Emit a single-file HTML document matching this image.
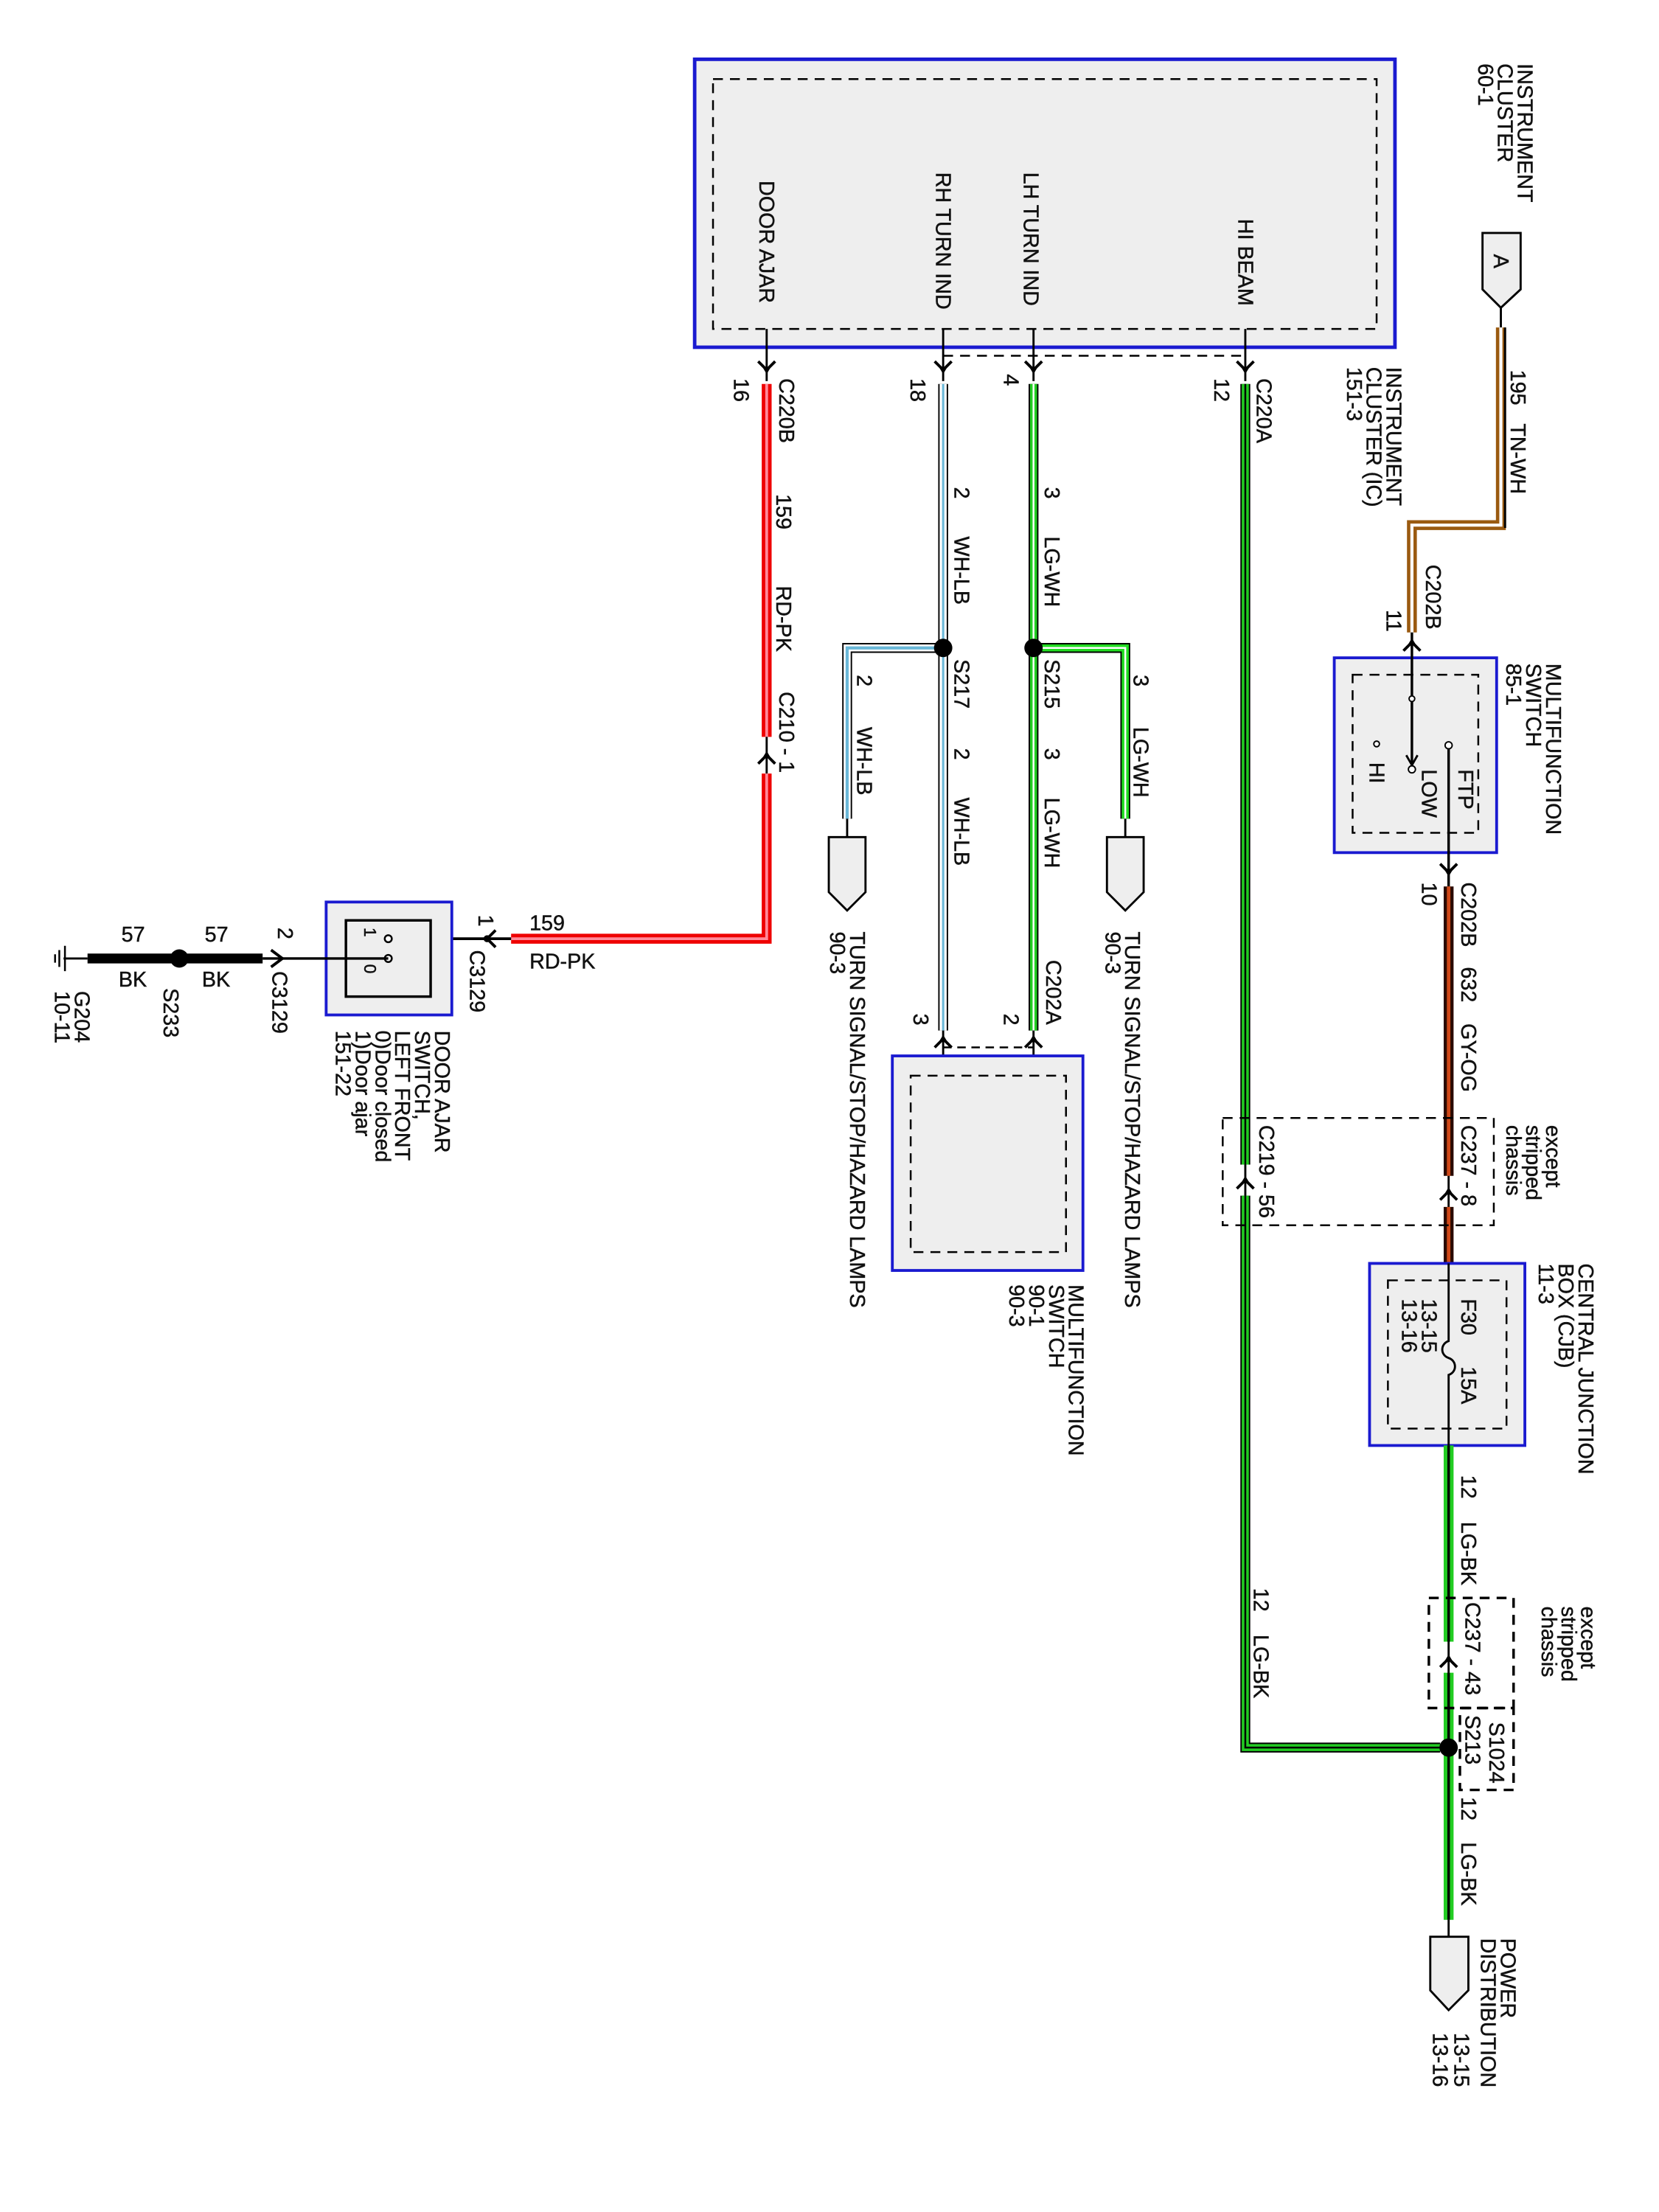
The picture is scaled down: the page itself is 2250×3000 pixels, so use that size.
<!DOCTYPE html>
<html><head><meta charset="utf-8"><style>
html,body{margin:0;padding:0;background:#fff;width:2250px;height:3000px;overflow:hidden}
svg{display:block}
text{font-family:"Liberation Sans",sans-serif;font-size:15px;fill:#111;stroke:#111;stroke-width:0.25}
</style></head><body>
<svg width="2250" height="3000" viewBox="0 0 1175 1567" preserveAspectRatio="none" xmlns="http://www.w3.org/2000/svg">
<defs>
<g id="cd"><path d="M-6,-6 L0,0 L6,-6" fill="none" stroke="#000" stroke-width="2"/><path d="M-3,-2 L0,3 L3,-2Z" fill="#000"/></g>
<g id="cu"><path d="M-6,6 L0,0 L6,6" fill="none" stroke="#000" stroke-width="2"/><path d="M-3,2 L0,-3 L3,2Z" fill="#000"/></g>
</defs>
<rect x="492" y="42" width="496" height="204" fill="#eee" stroke="#1a1ad0" stroke-width="2.5"/>
<rect x="505" y="56" width="470" height="177" fill="none" stroke="#000" stroke-width="1.3" stroke-dasharray="7,5"/>
<path d="M668,252 L882,252" stroke="#000" stroke-width="1.3" stroke-dasharray="7,5"/>
<g>
<text transform="translate(538,128) rotate(90)">DOOR AJAR</text>
<text transform="translate(663,122) rotate(90)">RH TURN IND</text>
<text transform="translate(725,122) rotate(90)">LH TURN IND</text>
<text transform="translate(877,155) rotate(90)">HI BEAM</text>
<text transform="translate(1075,45) rotate(90)">INSTRUMENT</text>
<text transform="translate(1061,45) rotate(90)">CLUSTER</text>
<text transform="translate(1047,45) rotate(90)">60-1</text>
<text transform="translate(982,260) rotate(90)">INSTRUMENT</text>
<text transform="translate(968,260) rotate(90)">CLUSTER (IC)</text>
<text transform="translate(954,260) rotate(90)">151-3</text>
</g>
<path d="M543,233 V270 M668,233 V270 M732,233 V270 M882,233 V270" stroke="#000" stroke-width="1.5"/>
<use href="#cd" x="543" y="262"/><use href="#cd" x="668" y="262"/><use href="#cd" x="732" y="262"/><use href="#cd" x="882" y="262"/>
<text transform="translate(520,268) rotate(90)">16</text>
<text transform="translate(552,268) rotate(90)">C220B</text>
<text transform="translate(645,268) rotate(90)">18</text>
<text transform="translate(711,265) rotate(90)">4</text>
<text transform="translate(860,268) rotate(90)">12</text>
<text transform="translate(890,268) rotate(90)">C220A</text>

<path d="M543,272 V522" stroke="#e00" stroke-width="7"/>
<path d="M543,272 V522" stroke="#ff8a9a" stroke-width="2"/>
<path d="M543,522 V548" stroke="#000" stroke-width="1.5"/>
<use href="#cu" x="543" y="535"/>
<path d="M543,548 V665 H362" stroke="#e00" stroke-width="7" fill="none"/>
<path d="M543,548 V665 H362" stroke="#ff8a9a" stroke-width="2" fill="none"/>
<text transform="translate(550,350) rotate(90)">159</text>
<text transform="translate(550,415) rotate(90)">RD-PK</text>
<text transform="translate(552,490) rotate(90)">C210 - 1</text>
<text x="375" y="659">159</text>
<text x="375" y="686">RD-PK</text>
<path d="M362,665 H275" stroke="#000" stroke-width="2"/>
<g transform="translate(345,665) rotate(90)"><path d="M-6,-6 L0,0 L6,-6" fill="none" stroke="#000" stroke-width="2"/></g>
<circle cx="345" cy="665" r="2.5" fill="#000"/>
<text transform="translate(339,648) rotate(90)">1</text>
<text transform="translate(333,673) rotate(90)">C3129</text>
<rect x="231" y="639" width="89" height="80" fill="#eee" stroke="#1a1ad0" stroke-width="2"/>
<rect x="245" y="652" width="60" height="54" fill="#eee" stroke="#000" stroke-width="1.8"/>
<circle cx="275" cy="665" r="2.5" fill="#fff" stroke="#000" stroke-width="1.3"/>
<circle cx="275" cy="679" r="2.5" fill="#fff" stroke="#000" stroke-width="1.3"/>
<path d="M275,679 H186" stroke="#000" stroke-width="1.8"/>
<text transform="translate(258,657) rotate(90)" style="font-size:12px">1</text>
<text transform="translate(258,683) rotate(90)" style="font-size:12px">0</text>
<path d="M192,673 L200,679 L192,685" fill="none" stroke="#000" stroke-width="2"/>
<text transform="translate(197,657) rotate(90)">2</text>
<text transform="translate(193,688) rotate(90)">C3129</text>
<path d="M62,679 H186" stroke="#000" stroke-width="7"/>
<path d="M45,679 H62" stroke="#000" stroke-width="1.5"/>
<circle cx="127" cy="679" r="6.5" fill="#000"/>
<path d="M46,670 V688 M42,673 V685 M39,676 V682" stroke="#000" stroke-width="1.3"/>
<text x="86" y="667">57</text><text x="145" y="667">57</text>
<text x="84" y="699">BK</text><text x="143" y="699">BK</text>
<text transform="translate(116,700) rotate(90)">S233</text>
<text transform="translate(53,702) rotate(90)">G204</text>
<text transform="translate(39,702) rotate(90)">10-11</text>
<text transform="translate(308,730) rotate(90)">DOOR AJAR</text>
<text transform="translate(294,730) rotate(90)">SWITCH,</text>
<text transform="translate(280,730) rotate(90)">LEFT FRONT</text>
<text transform="translate(266,730) rotate(90)">0)Door closed</text>
<text transform="translate(252,730) rotate(90)">1)Door ajar</text>
<text transform="translate(238,730) rotate(90)">151-22</text>

<g fill="none">
<path d="M668,272 V730" stroke="#000" stroke-width="7"/>
<path d="M668,272 V730" stroke="#fff" stroke-width="5"/>
<path d="M668,272 V730" stroke="#6ab8d8" stroke-width="1.6"/>
<path d="M668,459 H600 V580" stroke="#000" stroke-width="7"/>
<path d="M668,459 H600 V580" stroke="#fff" stroke-width="5"/>
<path d="M668,459 H600 V580" stroke="#6ab8d8" stroke-width="2.2"/>
<path d="M732,272 V730" stroke="#000" stroke-width="7"/>
<path d="M732,272 V730" stroke="#22cc22" stroke-width="5"/>
<path d="M732,272 V730" stroke="#fff" stroke-width="1.3"/>
<path d="M732,459 H797 V580" stroke="#000" stroke-width="7"/>
<path d="M732,459 H797 V580" stroke="#22dd22" stroke-width="5"/>
<path d="M732,459 H797 V580" stroke="#fff" stroke-width="1.3"/>
</g>
<circle cx="668" cy="459" r="6.5" fill="#000"/><circle cx="732" cy="459" r="6.5" fill="#000"/>
<text transform="translate(676,345) rotate(90)">2</text>
<text transform="translate(676,380) rotate(90)">WH-LB</text>
<text transform="translate(676,467) rotate(90)">S217</text>
<text transform="translate(676,530) rotate(90)">2</text>
<text transform="translate(676,565) rotate(90)">WH-LB</text>
<text transform="translate(607,478) rotate(90)">2</text>
<text transform="translate(607,515) rotate(90)">WH-LB</text>
<text transform="translate(740,345) rotate(90)">3</text>
<text transform="translate(740,380) rotate(90)">LG-WH</text>
<text transform="translate(740,467) rotate(90)">S215</text>
<text transform="translate(740,530) rotate(90)">3</text>
<text transform="translate(740,565) rotate(90)">LG-WH</text>
<text transform="translate(803,478) rotate(90)">3</text>
<text transform="translate(803,515) rotate(90)">LG-WH</text>
<path d="M600,580 V593 M797,580 V593" stroke="#000" stroke-width="1.5"/>
<path d="M587,593 H613 V632 L600,645 L587,632Z" fill="#eee" stroke="#000" stroke-width="1.5"/>
<path d="M784,593 H810 V632 L797,645 L784,632Z" fill="#eee" stroke="#000" stroke-width="1.5"/>
<text transform="translate(602,660) rotate(90)">TURN SIGNAL/STOP/HAZARD LAMPS</text>
<text transform="translate(588,660) rotate(90)">90-3</text>
<text transform="translate(797,660) rotate(90)">TURN SIGNAL/STOP/HAZARD LAMPS</text>
<text transform="translate(783,660) rotate(90)">90-3</text>
<path d="M668,730 V762 M732,730 V762" stroke="#000" stroke-width="1.5"/>
<use href="#cu" x="668" y="736"/><use href="#cu" x="732" y="736"/>
<path d="M668,742 H732" stroke="#000" stroke-width="1.3" stroke-dasharray="6,4"/>
<text transform="translate(647,718) rotate(90)">3</text>
<text transform="translate(711,718) rotate(90)">2</text>
<text transform="translate(741,680) rotate(90)">C202A</text>
<rect x="632" y="748" width="135" height="152" fill="#eee" stroke="#1a1ad0" stroke-width="2"/>
<rect x="645" y="762" width="110" height="125" fill="none" stroke="#000" stroke-width="1.3" stroke-dasharray="7,5"/>
<text transform="translate(757,910) rotate(90)">MULTIFUNCTION</text>
<text transform="translate(743,910) rotate(90)">SWITCH</text>
<text transform="translate(729,910) rotate(90)">90-1</text>
<text transform="translate(715,910) rotate(90)">90-3</text>

<g fill="none">
<path d="M882,272 V825 M882,847 V1238 H1020" stroke="#000" stroke-width="7"/>
<path d="M882,272 V825 M882,847 V1238 H1020" stroke="#22cc22" stroke-width="5"/>
<path d="M882,272 V825 M882,847 V1238 H1020" stroke="#000" stroke-width="1.3"/>
</g>
<path d="M882,825 V847" stroke="#000" stroke-width="1.5"/>
<use href="#cu" x="882" y="836"/>
<text transform="translate(888,1125) rotate(90)">12</text>
<text transform="translate(888,1158) rotate(90)">LG-BK</text>

<path d="M1050,165 H1077 V205 L1063,218 L1050,205Z" fill="#eee" stroke="#000" stroke-width="1.5"/>
<text transform="translate(1058,180) rotate(90)">A</text>
<path d="M1063,218 V232" stroke="#000" stroke-width="1.5"/>
<g fill="none">
<path d="M1063,232 V372 H1000 V448" stroke="#9a5a10" stroke-width="7"/>
<path d="M1063,232 V372 H1000 V448" stroke="#fff" stroke-width="2.2"/>
<path d="M1066,232 V374" stroke="#000" stroke-width="1.5"/>
</g>
<text transform="translate(1070,262) rotate(90)">195</text>
<text transform="translate(1070,300) rotate(90)">TN-WH</text>
<text transform="translate(1010,400) rotate(90)">C202B</text>
<text transform="translate(982,432) rotate(90)">11</text>
<rect x="945" y="466" width="115" height="138" fill="#eee" stroke="#1a1ad0" stroke-width="2"/>
<rect x="958" y="478" width="89" height="112" fill="none" stroke="#000" stroke-width="1.3" stroke-dasharray="7,5"/>
<path d="M1000,448 V542" stroke="#000" stroke-width="1.8"/>
<use href="#cu" x="1000" y="455"/>
<circle cx="1000" cy="495" r="2" fill="#fff" stroke="#000"/>
<path d="M996,535 L1000,542 L1004,535" fill="none" stroke="#000" stroke-width="1.5"/>
<circle cx="1000" cy="545" r="2.5" fill="#fff" stroke="#000"/>
<circle cx="975" cy="527" r="2" fill="#fff" stroke="#000"/>
<circle cx="1026" cy="528" r="2.5" fill="#fff" stroke="#000"/>
<path d="M1026,530 V628" stroke="#000" stroke-width="1.8"/>
<use href="#cd" x="1026" y="618"/>
<text transform="translate(1033,545) rotate(90)">FTP</text>
<text transform="translate(1007,545) rotate(90)">LOW</text>
<text transform="translate(970,540) rotate(90)">HI</text>
<text transform="translate(1095,470) rotate(90)">MULTIFUNCTION</text>
<text transform="translate(1081,470) rotate(90)">SWITCH</text>
<text transform="translate(1067,470) rotate(90)">85-1</text>
<text transform="translate(1007,625) rotate(90)">10</text>
<text transform="translate(1035,625) rotate(90)">C202B</text>
<g fill="none">
<path d="M1026,628 V833 M1026,855 V895" stroke="#2a0a00" stroke-width="7"/>
<path d="M1026,628 V833 M1026,855 V895" stroke="#d04818" stroke-width="2.5"/>
</g>
<path d="M1026,833 V855" stroke="#000" stroke-width="1.5"/>
<use href="#cu" x="1026" y="844"/>
<text transform="translate(1035,685) rotate(90)">632</text>
<text transform="translate(1035,725) rotate(90)">GY-OG</text>
<rect x="866" y="792" width="192" height="76" fill="none" stroke="#000" stroke-width="1.3" stroke-dasharray="7,5"/>
<text transform="translate(1035,797) rotate(90)">C237 - 8</text>
<text transform="translate(892,797) rotate(90)">C219 - 56</text>
<text transform="translate(1095,797) rotate(90)">except</text>
<text transform="translate(1081,797) rotate(90)">stripped</text>
<text transform="translate(1067,797) rotate(90)">chassis</text>
<rect x="970" y="895" width="110" height="129" fill="#eee" stroke="#1a1ad0" stroke-width="2"/>
<rect x="983" y="907" width="84" height="105" fill="none" stroke="#000" stroke-width="1.3" stroke-dasharray="7,5"/>
<path d="M1026,895 V950 C1020,952 1020,960 1026,962 C1032,964 1032,972 1026,974 V1024" fill="none" stroke="#000" stroke-width="1.5"/>
<text transform="translate(1035,920) rotate(90)">F30</text>
<text transform="translate(1035,968) rotate(90)">15A</text>
<text transform="translate(1007,920) rotate(90)">13-15</text>
<text transform="translate(993,920) rotate(90)">13-16</text>
<text transform="translate(1118,895) rotate(90)">CENTRAL JUNCTION</text>
<text transform="translate(1104,895) rotate(90)">BOX (CJB)</text>
<text transform="translate(1090,895) rotate(90)">11-3</text>
<g fill="none">
<path d="M1026,1024 V1163 M1026,1185 V1360" stroke="#22cc22" stroke-width="7"/>
<path d="M1026,1024 V1163 M1026,1185 V1360" stroke="#000" stroke-width="1.8"/>
</g>
<path d="M1026,1163 V1185 M1026,1360 V1372" stroke="#000" stroke-width="1.5"/>
<use href="#cu" x="1026" y="1175"/>
<circle cx="1026" cy="1238" r="6.5" fill="#000"/>
<text transform="translate(1035,1045) rotate(90)">12</text>
<text transform="translate(1035,1078) rotate(90)">LG-BK</text>
<text transform="translate(1035,1273) rotate(90)">12</text>
<text transform="translate(1035,1305) rotate(90)">LG-BK</text>
<rect x="1012" y="1132" width="60" height="78" fill="none" stroke="#000" stroke-width="1.8" stroke-dasharray="7,5"/>
<rect x="1034" y="1210" width="38" height="58" fill="none" stroke="#000" stroke-width="1.8" stroke-dasharray="7,5"/>
<text transform="translate(1038,1135) rotate(90)">C237 - 43</text>
<text transform="translate(1038,1215) rotate(90)">S213</text>
<text transform="translate(1055,1220) rotate(90)">S1024</text>
<text transform="translate(1120,1138) rotate(90)">except</text>
<text transform="translate(1106,1138) rotate(90)">stripped</text>
<text transform="translate(1092,1138) rotate(90)">chassis</text>
<path d="M1013,1372 H1040 V1410 L1026,1424 L1013,1410Z" fill="#eee" stroke="#000" stroke-width="1.5"/>
<text transform="translate(1063,1373) rotate(90)">POWER</text>
<text transform="translate(1049,1373) rotate(90)">DISTRIBUTION</text>
<text transform="translate(1030,1440) rotate(90)">13-15</text>
<text transform="translate(1015,1440) rotate(90)">13-16</text>
</svg>
</body></html>
